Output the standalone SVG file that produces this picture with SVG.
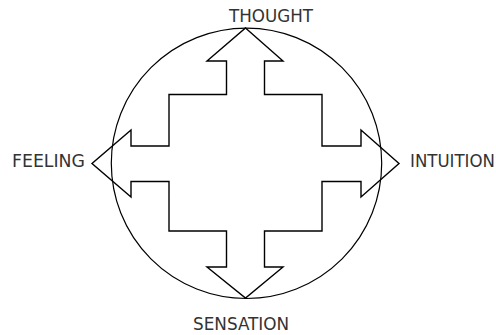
<svg xmlns="http://www.w3.org/2000/svg" width="496" height="335" viewBox="0 0 496 335">
<style>
.lbl{font-family:"DejaVu Sans Condensed","DejaVu Sans",sans-serif;font-size:18.5px;fill:#333;font-stretch:condensed}
.ln{fill:none;stroke:#000;stroke-linejoin:miter}
</style>
<rect width="496" height="335" fill="#fff"/>
<g id="circle"><circle class="ln" cx="246.5" cy="163.3" r="135.2" stroke-width="1.2"/></g>
<g id="connectors">
<path class="ln" stroke-width="1.4" d="M245.5,28 L283,61 L264.5,61 L264.5,94.5 L322,94.5 L322,146 L361,146 L361,130 L399,163.5 L361,197 L361,181.5 L322,181.5 L322,231 L264.5,231 L264.5,267 L283,267 L245.5,298 L207,267 L226.5,267 L226.5,231 L169,231 L169,181.5 L131,181.5 L131,197 L92,163.5 L131,130 L131,146 L169,146 L169,94.5 L226.5,94.5 L226.5,61 L207,61 Z"/>
</g>
<g id="thought"><text class="lbl" x="229" y="22" textLength="84" lengthAdjust="spacingAndGlyphs">THOUGHT</text></g>
<g id="sensation"><text class="lbl" x="193" y="330" textLength="96" lengthAdjust="spacingAndGlyphs">SENSATION</text></g>
<g id="feeling"><text class="lbl" x="12" y="167" textLength="73" lengthAdjust="spacingAndGlyphs">FEELING</text></g>
<g id="intuition"><text class="lbl" x="410" y="167" textLength="85" lengthAdjust="spacingAndGlyphs">INTUITION</text></g>
</svg>
